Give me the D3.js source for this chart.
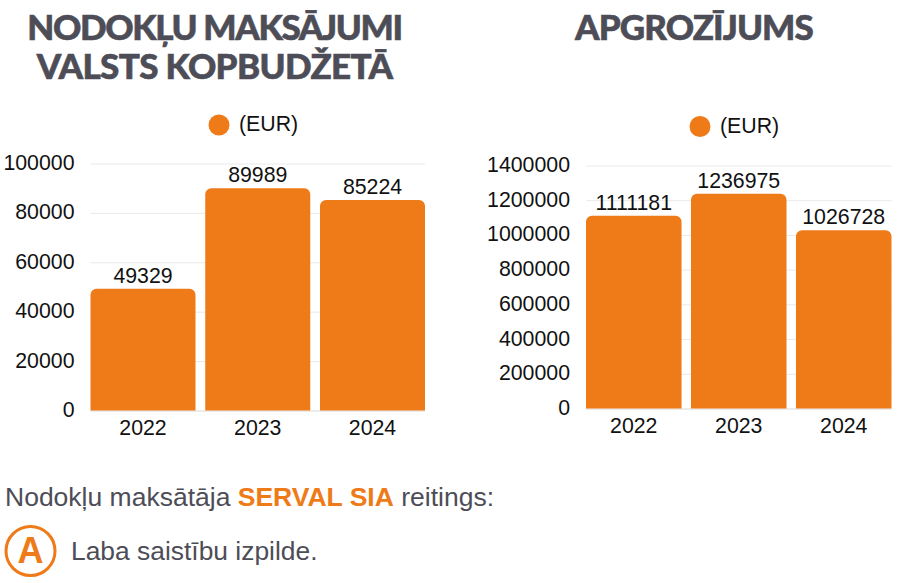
<!DOCTYPE html>
<html><head><meta charset="utf-8">
<script src="https://cdn.jsdelivr.net/npm/d3@7"></script>
<style>html,body{margin:0;padding:0;background:#fff}svg{display:block}text{font-family:"Liberation Sans",Arial,sans-serif}</style>
</head><body><div id="c"></div>
<script>
const years = ["2022","2023","2024"];
const taxValues = [49329,89989,85224];
const revenueValues = [1111181,1236975,1026728];
const taxTicks = [0,20000,40000,60000,80000,100000];
const revenueTicks = [0,200000,400000,600000,800000,1000000,1200000,1400000];
const legendLabel = "(EUR)";
const titleLeft = ["NODOKĻU MAKSĀJUMI","VALSTS KOPBUDŽETĀ"];
const titleRight = ["APGROZĪJUMS"];
const orange = "#ee7a18", dark = "#4d4d57";

const svg = d3.select("#c").append("svg").attr("width",899).attr("height",583);

function title(lines,cx,ys,sp){
  lines.forEach((t,i)=>svg.append("text").text(t).attr("x",cx).attr("y",ys[i])
    .attr("text-anchor","middle").attr("fill",dark).attr("stroke",dark).attr("stroke-width",0.6)
    .style("font-family","Lato").style("font-weight",900).style("font-size","35px")
    .style("letter-spacing",sp[i]+"px"));
}
title(titleLeft,214.5,[40,79],[-1.35,-0.65]);
title(titleRight,694,[40],[-0.9]);

function chart(o){
  const x=d3.scaleBand().domain(years).range([o.x0,o.x1]).paddingInner(o.pad).paddingOuter(0);
  const y=d3.scaleLinear().domain([0,o.max]).range([o.y0,o.y1]);
  const g=svg.append("g");
  g.append("circle").attr("cx",o.lx).attr("cy",o.ly).attr("r",10.5).attr("fill",orange);
  g.append("text").text(legendLabel).attr("x",o.lx+20).attr("y",o.ly+6).attr("font-size",21.3).attr("fill","#111");
  const ya=g.append("g").attr("transform",`translate(${o.x0},0)`)
    .call(d3.axisLeft(y).tickValues(o.ticks).tickSize(-(o.x1-o.x0)).tickFormat(d3.format("d")).tickPadding(16));
  ya.select(".domain").remove();
  ya.selectAll("line").attr("stroke",d=>d===0?"#d8d8d8":"#e9e9e9").attr("stroke-width",1);
  ya.selectAll("text").attr("font-size",21.3).attr("fill","#111").attr("dy","0.28em")
    .style("font-family",'"Liberation Sans"');
  const xa=g.append("g").attr("transform",`translate(0,${o.y0})`)
    .call(d3.axisBottom(x).tickSize(0).tickPadding(9.5));
  xa.select(".domain").remove();
  xa.selectAll("text").attr("font-size",21.3).attr("fill","#111").style("font-family",'"Liberation Sans"');
  const r=6;
  g.selectAll("path.bar").data(o.values).join("path").attr("class","bar").attr("fill",orange)
    .attr("d",(d,i)=>{const p=d3.path(),a=x(years[i]),b=a+x.bandwidth(),t=y(d),z=y(0);
      p.moveTo(a,z);p.lineTo(a,t+r);p.arcTo(a,t,a+r,t,r);p.lineTo(b-r,t);p.arcTo(b,t,b,t+r,r);p.lineTo(b,z);p.closePath();return p;});
  g.selectAll("text.val").data(o.values).join("text").attr("class","val").text(d=>d)
    .attr("x",(d,i)=>x(years[i])+x.bandwidth()/2).attr("y",d=>y(d)-6)
    .attr("text-anchor","middle").attr("font-size",21.3).attr("fill","#111");
}
chart({values:taxValues,ticks:taxTicks,max:100000,x0:90.5,x1:425,y0:410.5,y1:163.5,pad:0.085,lx:219,ly:125});
chart({values:revenueValues,ticks:revenueTicks,max:1400000,x0:586,x1:891.5,y0:408.5,y1:165.5,pad:0.09,lx:700,ly:126.5});

const line=svg.append("text").attr("x",5).attr("y",506).attr("font-size",26.5).attr("fill",dark);
line.append("tspan").text("Nodokļu maksātāja ");
line.append("tspan").text("SERVAL SIA").attr("fill",orange).attr("font-weight",700);
line.append("tspan").text(" reitings:");
svg.append("circle").attr("cx",30.5).attr("cy",551).attr("r",24.5).attr("fill","none").attr("stroke",orange).attr("stroke-width",3);
svg.append("text").text("A").attr("x",30.5).attr("y",563).attr("text-anchor","middle").attr("font-size",36).attr("font-weight",700).attr("fill",orange);
svg.append("text").text("Laba saistību izpilde.").attr("x",71).attr("y",560).attr("font-size",26.4).attr("fill",dark);
</script></body></html>
